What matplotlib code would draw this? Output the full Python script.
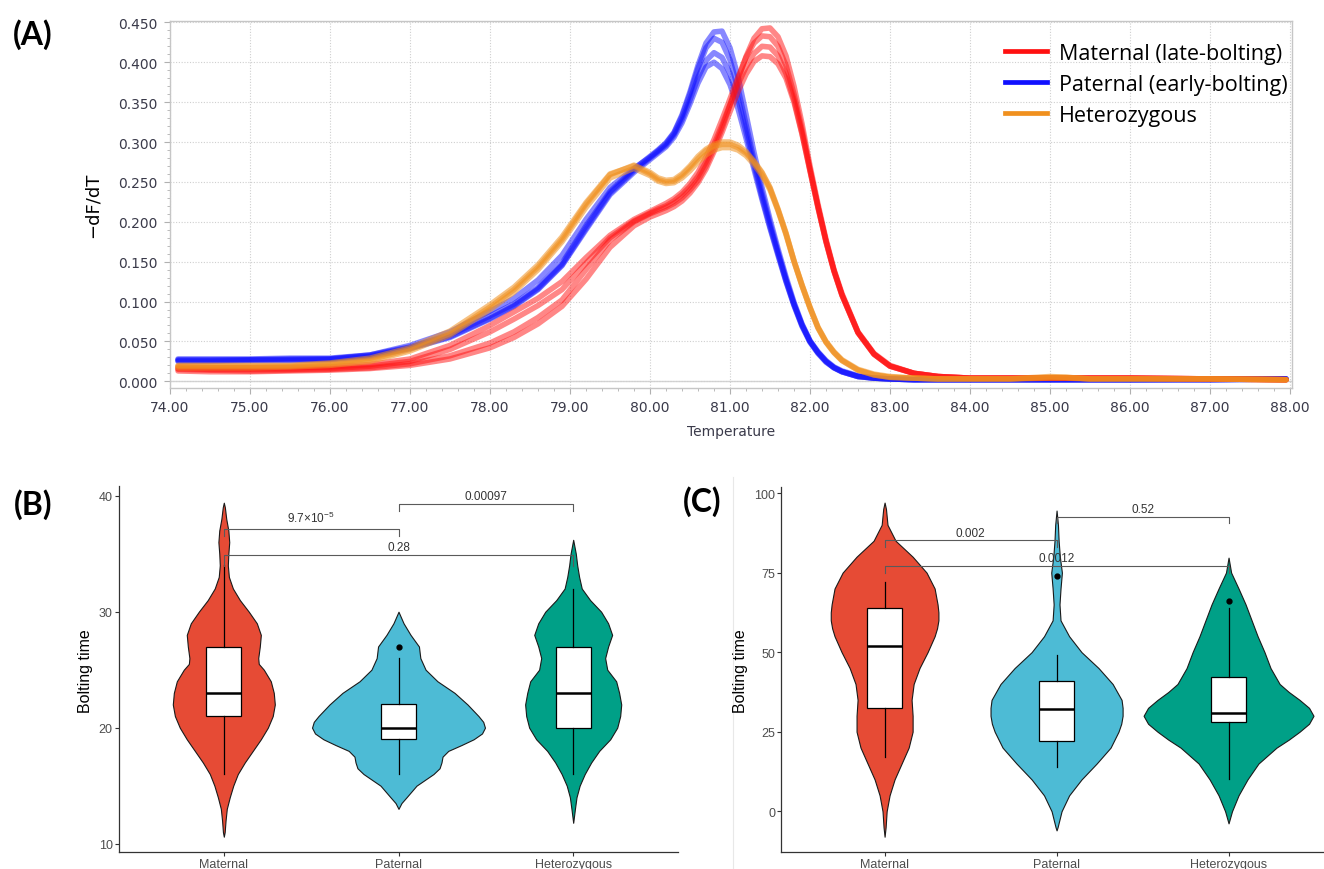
import matplotlib
matplotlib.use('Agg')
import matplotlib.pyplot as plt
from matplotlib.lines import Line2D
from matplotlib.ticker import MultipleLocator, FormatStrFormatter
import numpy as np

plt.rcParams['mathtext.fontset'] = 'custom'
plt.rcParams['mathtext.rm'] = 'Liberation Sans'
plt.rcParams['mathtext.it'] = 'Liberation Sans:italic'
plt.rcParams['mathtext.bf'] = 'Liberation Sans:bold'
plt.rcParams['mathtext.default'] = 'regular'

# ---------------- Panel A: melt curves (-dF/dT vs temperature) ----------------
temp = [74.1, 74.5, 75.0, 75.5, 76.0, 76.5, 77.0, 77.5, 78.0, 78.3, 78.6, 78.9,
        79.2, 79.5, 79.8, 80.0, 80.1, 80.2, 80.3, 80.4, 80.5, 80.6, 80.7, 80.8,
        80.9, 81.0, 81.1, 81.2, 81.3, 81.4, 81.5, 81.6, 81.7, 81.8, 81.9, 82.0,
        82.1, 82.2, 82.3, 82.4, 82.6, 82.8, 83.0, 83.3, 83.6, 84.0, 84.5, 85.0,
        85.2, 85.5, 86.0, 87.0, 87.95]

paternal_curves = [
    [0.028, 0.028, 0.028, 0.029, 0.029, 0.033, 0.043, 0.058, 0.082, 0.097, 0.118, 0.148,
     0.195, 0.238, 0.266, 0.282, 0.290, 0.299, 0.312, 0.334, 0.363, 0.396, 0.424, 0.438,
     0.439, 0.418, 0.382, 0.335, 0.287, 0.243, 0.203, 0.166, 0.131, 0.099, 0.072, 0.051,
     0.037, 0.026, 0.018, 0.013, 0.007, 0.004, 0.003, 0.002, 0.002, 0.002, 0.002, 0.002,
     0.002, 0.002, 0.002, 0.002, 0.003],
    [0.026, 0.026, 0.027, 0.027, 0.028, 0.033, 0.045, 0.062, 0.088, 0.104, 0.127, 0.158,
     0.203, 0.243, 0.267, 0.281, 0.289, 0.298, 0.311, 0.332, 0.360, 0.392, 0.418, 0.430,
     0.425, 0.403, 0.367, 0.322, 0.277, 0.236, 0.198, 0.162, 0.128, 0.097, 0.071, 0.050,
     0.036, 0.025, 0.017, 0.012, 0.006, 0.004, 0.003, 0.002, 0.002, 0.002, 0.002, 0.002,
     0.002, 0.002, 0.002, 0.003, 0.003],
    [0.027, 0.027, 0.027, 0.028, 0.028, 0.032, 0.042, 0.056, 0.079, 0.095, 0.116, 0.146,
     0.192, 0.236, 0.264, 0.280, 0.288, 0.296, 0.309, 0.328, 0.353, 0.381, 0.402, 0.412,
     0.406, 0.386, 0.354, 0.313, 0.271, 0.231, 0.194, 0.160, 0.126, 0.096, 0.070, 0.050,
     0.036, 0.025, 0.017, 0.012, 0.006, 0.004, 0.003, 0.002, 0.002, 0.002, 0.002, 0.002,
     0.002, 0.002, 0.002, 0.002, 0.003],
    [0.025, 0.025, 0.026, 0.026, 0.027, 0.031, 0.041, 0.055, 0.078, 0.094, 0.115, 0.145,
     0.190, 0.234, 0.262, 0.278, 0.286, 0.294, 0.306, 0.324, 0.348, 0.374, 0.394, 0.400,
     0.392, 0.372, 0.342, 0.305, 0.266, 0.228, 0.192, 0.158, 0.125, 0.095, 0.069, 0.049,
     0.035, 0.024, 0.017, 0.012, 0.006, 0.004, 0.003, 0.002, 0.002, 0.002, 0.002, 0.002,
     0.002, 0.002, 0.002, 0.002, 0.003],
]

maternal_curves = [
    [0.015, 0.014, 0.013, 0.014, 0.015, 0.017, 0.022, 0.032, 0.048, 0.062, 0.080, 0.102,
     0.140, 0.177, 0.200, 0.210, 0.214, 0.218, 0.223, 0.230, 0.240, 0.252, 0.270, 0.292,
     0.317, 0.346, 0.378, 0.407, 0.430, 0.442, 0.443, 0.432, 0.408, 0.370, 0.323, 0.270,
     0.222, 0.178, 0.140, 0.110, 0.062, 0.035, 0.020, 0.010, 0.006, 0.004, 0.004, 0.004,
     0.004, 0.004, 0.004, 0.003, 0.002],
    [0.018, 0.017, 0.017, 0.017, 0.018, 0.021, 0.028, 0.045, 0.070, 0.087, 0.104, 0.125,
     0.155, 0.183, 0.203, 0.213, 0.218, 0.223, 0.229, 0.237, 0.248, 0.262, 0.281, 0.303,
     0.328, 0.354, 0.381, 0.406, 0.424, 0.433, 0.432, 0.420, 0.396, 0.360, 0.316, 0.266,
     0.219, 0.176, 0.139, 0.108, 0.061, 0.034, 0.019, 0.010, 0.006, 0.004, 0.004, 0.004,
     0.004, 0.004, 0.004, 0.003, 0.002],
    [0.016, 0.015, 0.015, 0.015, 0.016, 0.019, 0.025, 0.040, 0.062, 0.078, 0.095, 0.115,
     0.148, 0.180, 0.201, 0.211, 0.216, 0.220, 0.226, 0.234, 0.244, 0.257, 0.275, 0.297,
     0.321, 0.347, 0.372, 0.394, 0.411, 0.420, 0.419, 0.408, 0.386, 0.353, 0.311, 0.264,
     0.218, 0.175, 0.138, 0.108, 0.061, 0.034, 0.019, 0.010, 0.006, 0.004, 0.004, 0.004,
     0.004, 0.004, 0.004, 0.003, 0.002],
    [0.013, 0.012, 0.012, 0.013, 0.014, 0.016, 0.020, 0.028, 0.042, 0.055, 0.072, 0.094,
     0.128, 0.168, 0.195, 0.206, 0.210, 0.214, 0.219, 0.226, 0.236, 0.249, 0.266, 0.288,
     0.312, 0.338, 0.363, 0.385, 0.401, 0.408, 0.407, 0.398, 0.380, 0.350, 0.310, 0.264,
     0.218, 0.175, 0.138, 0.108, 0.061, 0.034, 0.019, 0.010, 0.006, 0.004, 0.004, 0.004,
     0.004, 0.004, 0.004, 0.003, 0.002],
]

hetero_curves = [
    [0.019, 0.019, 0.019, 0.019, 0.022, 0.027, 0.040, 0.060, 0.093, 0.115, 0.143, 0.178,
     0.222, 0.259, 0.271, 0.262, 0.255, 0.252, 0.253, 0.260, 0.270, 0.282, 0.291, 0.297,
     0.300, 0.300, 0.296, 0.288, 0.276, 0.262, 0.243, 0.216, 0.186, 0.151, 0.121, 0.093,
     0.068, 0.050, 0.037, 0.027, 0.015, 0.009, 0.006, 0.004, 0.003, 0.003, 0.003, 0.005,
     0.005, 0.003, 0.003, 0.003, 0.002],
    [0.017, 0.017, 0.017, 0.018, 0.020, 0.025, 0.038, 0.058, 0.090, 0.112, 0.140, 0.175,
     0.218, 0.255, 0.267, 0.258, 0.251, 0.248, 0.249, 0.255, 0.264, 0.275, 0.284, 0.290,
     0.293, 0.293, 0.290, 0.283, 0.272, 0.258, 0.240, 0.214, 0.184, 0.150, 0.120, 0.092,
     0.067, 0.049, 0.036, 0.026, 0.014, 0.008, 0.005, 0.004, 0.003, 0.003, 0.003, 0.006,
     0.005, 0.003, 0.003, 0.003, 0.002],
    [0.020, 0.020, 0.020, 0.020, 0.023, 0.029, 0.042, 0.063, 0.096, 0.118, 0.146, 0.181,
     0.224, 0.260, 0.270, 0.260, 0.253, 0.250, 0.251, 0.258, 0.268, 0.279, 0.289, 0.295,
     0.297, 0.297, 0.293, 0.286, 0.275, 0.261, 0.242, 0.215, 0.185, 0.151, 0.120, 0.092,
     0.067, 0.049, 0.036, 0.026, 0.014, 0.008, 0.005, 0.004, 0.003, 0.003, 0.003, 0.004,
     0.004, 0.003, 0.003, 0.003, 0.002],
]

legend_labels = ['Maternal (late-bolting)', 'Paternal (early-bolting)', 'Heterozygous']
curve_colors = {'mat': '#ff1010', 'pat': '#1010ff', 'het': '#f0901e'}

# ---------------- Panels B and C: violin + box plots ----------------
groups = ['Maternal', 'Paternal', 'Heterozygous']
violin_colors = ['#E64B35', '#4DBBD5', '#00A087']

# violin outlines: (bolting time, half width in category units)
b_violin_y = [
    [10.6, 11, 12, 13, 14, 15, 16, 17, 18, 19, 20, 21, 22, 23, 24, 25, 25.5, 26, 27, 28,
     29, 30, 31, 32, 33, 34, 35, 36, 37, 38, 39, 39.4],
    [13.0, 13.5, 14, 15, 16, 16.5, 17, 17.5, 18, 18.5, 19, 19.5, 20, 20.5, 21, 22, 23, 24,
     25, 26, 27, 28, 29, 30],
    [11.8, 13, 14, 15, 16, 17, 18, 19, 20, 21, 22, 23, 24, 25, 26, 27, 28, 29, 30, 31, 32,
     33, 34, 35, 36.2],
]
b_violin_w = [
    [0, 0.005, 0.010, 0.017, 0.034, 0.054, 0.080, 0.120, 0.166, 0.212, 0.252, 0.280, 0.292,
     0.286, 0.269, 0.229, 0.200, 0.197, 0.206, 0.212, 0.189, 0.143, 0.092, 0.052, 0.029,
     0.023, 0.026, 0.031, 0.026, 0.014, 0.006, 0],
    [0, 0.017, 0.046, 0.103, 0.200, 0.235, 0.246, 0.252, 0.285, 0.360, 0.430, 0.478, 0.495,
     0.485, 0.458, 0.395, 0.321, 0.223, 0.155, 0.125, 0.117, 0.069, 0.029, 0],
    [0, 0.010, 0.019, 0.037, 0.066, 0.103, 0.149, 0.212, 0.252, 0.269, 0.275, 0.263, 0.246,
     0.195, 0.183, 0.200, 0.223, 0.200, 0.160, 0.097, 0.049, 0.034, 0.023, 0.015, 0],
]
c_violin_y = [
    [-8, -5, 0, 5, 10, 15, 20, 25, 30, 35, 40, 45, 50, 55, 57.5, 60, 62.5, 65, 70, 75, 80,
     85, 90, 95, 97],
    [-6, -5, 0, 5, 10, 15, 20, 25, 27.5, 30, 32.5, 35, 40, 45, 50, 55, 60, 65, 70, 75, 80,
     85, 90, 94.5],
    [-3.8, 0, 5, 10, 15, 20, 22.5, 25, 27.5, 30, 32.5, 35, 37.5, 40, 45, 50, 55, 60, 65, 70,
     75, 79.7],
]
c_violin_w = [
    [0, 0.006, 0.012, 0.029, 0.058, 0.099, 0.140, 0.163, 0.163, 0.157, 0.169, 0.203, 0.250,
     0.291, 0.305, 0.313, 0.313, 0.308, 0.291, 0.244, 0.163, 0.064, 0.017, 0.008, 0],
    [0, 0.006, 0.029, 0.073, 0.145, 0.233, 0.314, 0.360, 0.376, 0.384, 0.384, 0.378, 0.326,
     0.244, 0.145, 0.073, 0.023, 0.017, 0.023, 0.031, 0.019, 0.012, 0.008, 0],
    [0, 0.020, 0.058, 0.110, 0.174, 0.279, 0.350, 0.413, 0.468, 0.494, 0.468, 0.413, 0.350,
     0.297, 0.244, 0.209, 0.169, 0.134, 0.099, 0.058, 0.015, 0],
]

# box statistics: q1, median, q3, whisker low, whisker high, outliers
b_q1 = [21, 19, 20]
b_med = [23, 20, 23]
b_q3 = [27, 22, 27]
b_lo = [16, 16, 16]
b_hi = [34, 26, 32]
b_out = [[], [27], []]

c_q1 = [32.5, 22, 28]
c_med = [52, 32, 31]
c_q3 = [64, 41, 42.2]
c_lo = [17, 14, 10]
c_hi = [72, 49, 64]
c_out = [[], [74], [66]]

# significance brackets: (group a, group b, line height, tip bottom, label, label height)
b_brackets = [(1, 2, 37.1, 36.55, r'9.7×10$^{-5}$', 38.1),
              (2, 3, 39.3, 38.7, '0.00097', 40.0),
              (1, 3, 34.9, 33.9, '0.28', 35.6)]
c_brackets = [(2, 3, 92.4, 90.6, '0.52', 95.0),
              (1, 2, 85.1, 83.0, '0.002', 87.5),
              (1, 3, 77.2, 75.0, '0.0012', 79.7)]

W, H = 1324, 870
fig = plt.figure(figsize=(W / 100, H / 100), dpi=100)


def fx(px):
    return px / W


def fy(py):
    return 1 - py / H


# ---------- A ----------
axA = fig.add_axes([fx(170), fy(389), fx(1292) - fx(170), fy(21.7) - fy(389)])
for curve in paternal_curves:
    axA.plot(temp, curve, color=curve_colors['pat'], lw=4, alpha=0.5,
             solid_capstyle='round', solid_joinstyle='round')
for curve in maternal_curves:
    axA.plot(temp, curve, color=curve_colors['mat'], lw=4, alpha=0.5,
             solid_capstyle='round', solid_joinstyle='round')
for curve in hetero_curves:
    axA.plot(temp, curve, color=curve_colors['het'], lw=4, alpha=0.55,
             solid_capstyle='round', solid_joinstyle='round')

axA.set_xlim(74.0, 88.025)
axA.set_ylim(-0.0084, 0.4521)
axA.xaxis.set_major_locator(MultipleLocator(1.0))
axA.xaxis.set_minor_locator(MultipleLocator(0.2))
axA.yaxis.set_major_locator(MultipleLocator(0.05))
axA.yaxis.set_minor_locator(MultipleLocator(0.01))
axA.xaxis.set_major_formatter(FormatStrFormatter('%.2f'))
axA.yaxis.set_major_formatter(FormatStrFormatter('%.3f'))
axA.grid(True, which='major', color='#cfcfcf', linestyle=(0, (1, 1.5)), linewidth=0.8)
axA.set_axisbelow(True)
axA.axhline(0, color='#d4d4d4', lw=1.0, zorder=0)
for sp in axA.spines.values():
    sp.set_color('#c6c6c6')
    sp.set_linewidth(1.0)
axA.tick_params(which='major', length=4, color='#b0b0b0', labelsize=10, labelcolor='#3a3a4a', pad=5)
axA.tick_params(which='minor', length=2.5, color='#b0b0b0')

handles = [Line2D([], [], color=curve_colors[k], lw=3.4) for k in ['mat', 'pat', 'het']]
fig.legend(handles, legend_labels, loc='upper left', bbox_to_anchor=(fx(1005), fy(44)),
           frameon=False, prop={'family': 'Open Sans', 'size': 15.5}, handlelength=1.95,
           handletextpad=0.56, labelspacing=0.46, borderpad=0, borderaxespad=0)

fig.text(fx(731), fy(432), 'Temperature', ha='center', va='center', fontsize=10, color='#3a3a4a')
fig.text(fx(93), fy(205), '\u2212dF/dT', ha='center', va='center', rotation=90, fontsize=13, color='black')


# ---------- B and C ----------
def violin_panel(ax, vy, vw, q1, med, q3, lo, hi, out, brackets, yticks):
    for i in range(3):
        y = np.array(vy[i])
        w = np.array(vw[i])
        ax.fill_betweenx(y, i + 1 - w, i + 1 + w, facecolor=violin_colors[i],
                         edgecolor='#1a1a1a', linewidth=0.8, zorder=2)
    stats = [dict(q1=q1[i], med=med[i], q3=q3[i], whislo=lo[i], whishi=hi[i], fliers=out[i])
             for i in range(3)]
    ax.bxp(stats, positions=[1, 2, 3], widths=0.2, showcaps=False, patch_artist=True,
           boxprops=dict(facecolor='white', edgecolor='black', linewidth=0.9),
           medianprops=dict(color='black', linewidth=1.8),
           whiskerprops=dict(color='black', linewidth=0.9),
           flierprops=dict(marker='o', markerfacecolor='black', markeredgecolor='black',
                           markersize=3.5), zorder=3)
    for a, b, yl, yt, lab, ylab in brackets:
        ax.plot([a, a, b, b], [yt, yl, yl, yt], color='#5a5a5a', lw=0.8, zorder=4)
        ax.text((a + b) / 2, ylab, lab, ha='center', va='center', fontsize=8.5,
                color='#333333', family='Liberation Sans', zorder=5)
    ax.set_xticks([1, 2, 3])
    ax.set_xticklabels(groups)
    ax.set_yticks(yticks)
    for side in ['top', 'right']:
        ax.spines[side].set_visible(False)
    for side in ['left', 'bottom']:
        ax.spines[side].set_color('#333333')
        ax.spines[side].set_linewidth(0.9)
    ax.tick_params(length=3, width=0.8, color='#333333', labelsize=9, labelcolor='#4d4d4d',
                   pad=1.5, labelfontfamily='Liberation Sans')


axB = fig.add_axes([fx(119), fy(853), fx(678) - fx(119), fy(487) - fy(853)])
violin_panel(axB, b_violin_y, b_violin_w, b_q1, b_med, b_q3, b_lo, b_hi, b_out,
             b_brackets, [10, 20, 30, 40])
axB.set_xlim(0.4, 3.6)
axB.set_ylim(9.28, 40.84)

axC = fig.add_axes([fx(781.4), fy(853), 1 - fx(781.4), fy(488) - fy(853)])
violin_panel(axC, c_violin_y, c_violin_w, c_q1, c_med, c_q3, c_lo, c_hi, c_out,
             c_brackets, [0, 25, 50, 75, 100])
axC.set_xlim(0.4, 3.555)
axC.set_ylim(-12.8, 101.9)

fig.text(fx(85), fy(671), 'Bolting time', rotation=90, ha='center', va='center',
         fontsize=11.5, family='Liberation Sans', color='black')
fig.text(fx(740), fy(671), 'Bolting time', rotation=90, ha='center', va='center',
         fontsize=11.5, family='Liberation Sans', color='black')

# thin separator between panels B and C
fig.add_artist(Line2D([fx(733), fx(733)], [0, fy(478)], color='#e8e8e8', lw=0.8,
                      transform=fig.transFigure))

# panel letters
for lab, px, py in [('(A)', 33, 35), ('(B)', 33, 505), ('(C)', 702, 502)]:
    fig.text(fx(px), fy(py), lab, ha='center', va='center', fontsize=23,
             fontweight='bold', family='Lato', color='black')

fig.savefig('out.png', dpi=100)
